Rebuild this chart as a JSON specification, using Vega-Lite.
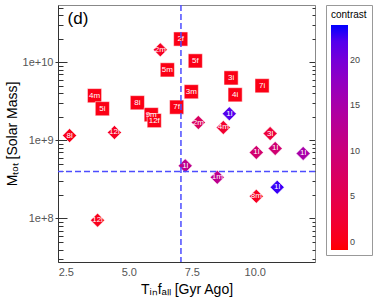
{
  "$schema": "https://vega.github.io/schema/vega-lite/v6.json",
  "width": 257,
  "height": 257,
  "autosize": {"type": "none"},
  "padding": {"left": 58, "top": 5, "right": 59, "bottom": 41},
  "config": {
    "font": "Liberation Sans",
    "view": {"stroke": "#888", "strokeWidth": 1},
    "axis": {"domainColor": "#333", "tickColor": "#333", "labelColor": "#555", "labelFontSize": 11, "titleFontSize": 14, "titleFontWeight": "normal", "titleColor": "#000", "grid": false},
    "legend": {"orient": "right", "offset": 10, "padding": 5, "strokeColor": "#999", "titleFontSize": 10, "titleFontWeight": "normal", "titleColor": "#000", "labelFontSize": 9, "labelColor": "#444", "gradientLength": 225, "gradientThickness": 17, "titlePadding": 5, "labelOffset": 6, "gradientStrokeWidth": 0}
  },
  "datasets": {
    "pts": [
      {"label": "2f", "t": 7.06, "m": 1.98e10, "contrast": 0, "kind": "sq"},
      {"label": "5m", "t": 6.53, "m": 7.98e9, "contrast": 0, "kind": "sq"},
      {"label": "5f", "t": 7.64, "m": 1.04e10, "contrast": 0, "kind": "sq"},
      {"label": "3i", "t": 9.06, "m": 6.3e9, "contrast": 0, "kind": "sq"},
      {"label": "7i", "t": 10.29, "m": 5.0e9, "contrast": 0, "kind": "sq"},
      {"label": "4i", "t": 9.22, "m": 3.83e9, "contrast": 0, "kind": "sq"},
      {"label": "3m", "t": 7.48, "m": 4.19e9, "contrast": 0, "kind": "sq"},
      {"label": "4m", "t": 3.64, "m": 3.73e9, "contrast": 0, "kind": "sq"},
      {"label": "5i", "t": 3.95, "m": 2.54e9, "contrast": 0, "kind": "sq"},
      {"label": "8i", "t": 5.34, "m": 3.03e9, "contrast": 0, "kind": "sq"},
      {"label": "7f", "t": 6.9, "m": 2.66e9, "contrast": 0, "kind": "sq"},
      {"label": "9m", "t": 5.89, "m": 2.13e9, "contrast": 0, "kind": "sq"},
      {"label": "12f", "t": 6.01, "m": 1.79e9, "contrast": 0, "kind": "sq"},
      {"label": "2m", "t": 6.25, "m": 1.44e10, "contrast": 1, "kind": "di"},
      {"label": "8l", "t": 2.65, "m": 1.15e9, "contrast": 0.5, "kind": "di"},
      {"label": "12l", "t": 4.43, "m": 1.26e9, "contrast": 1, "kind": "di"},
      {"label": "2m", "t": 7.76, "m": 1.69e9, "contrast": 7, "kind": "di"},
      {"label": "4m", "t": 8.75, "m": 1.46e9, "contrast": 2, "kind": "di"},
      {"label": "1l", "t": 8.99, "m": 2.19e9, "contrast": 22, "kind": "di"},
      {"label": "3l", "t": 10.61, "m": 1.22e9, "contrast": 3, "kind": "di"},
      {"label": "1l", "t": 10.06, "m": 7.0e8, "contrast": 8.5, "kind": "di"},
      {"label": "1l", "t": 10.81, "m": 7.87e8, "contrast": 9, "kind": "di"},
      {"label": "1l", "t": 11.92, "m": 6.8e8, "contrast": 15, "kind": "di"},
      {"label": "1l", "t": 7.24, "m": 4.71e8, "contrast": 12, "kind": "di"},
      {"label": "1m", "t": 8.51, "m": 3.36e8, "contrast": 12, "kind": "di"},
      {"label": "1l", "t": 10.89, "m": 2.51e8, "contrast": 23, "kind": "di"},
      {"label": "8m", "t": 10.06, "m": 1.92e8, "contrast": 1, "kind": "di"},
      {"label": "12l", "t": 3.76, "m": 9.5e7, "contrast": 0.5, "kind": "di"}
    ]
  },
  "layer": [
    {
      "data": {"name": "pts"},
      "mark": {"type": "point", "filled": true, "stroke": "white", "strokeWidth": 1, "strokeOpacity": 0.5},
      "encoding": {
        "x": {"field": "t", "type": "quantitative", "scale": {"domain": [2.19, 12.39], "nice": false, "zero": false},
              "axis": {"values": [2.5, 5, 7.5, 10], "format": ".1f", "ticks": false, "labelPadding": 4, "title": "Tᵢₙfₐₗₗ [Gyr Ago]", "titlePadding": 5}},
        "y": {"field": "m", "type": "quantitative", "scale": {"type": "log", "domain": [2.77e7, 5.4e10], "nice": false},
              "axis": {"orient": "left", "values": [1e8, 1e9, 1e10], "format": ".0e", "tickSize": 3, "labelPadding": 2, "title": "Mₜₒₜ [Solar Mass]", "titlePadding": 3}},
        "shape": {"field": "kind", "type": "nominal", "scale": {"domain": ["sq", "di"], "range": ["square", "diamond"]}, "legend": null},
        "size": {"field": "kind", "type": "nominal", "scale": {"domain": ["sq", "di"], "range": [200, 196]}, "legend": null},
        "color": {"field": "contrast", "type": "quantitative", "scale": {"domain": [-0.9, 23.8], "range": ["#FF0000", "#0000FF"], "interpolate": "lab", "nice": false, "zero": false},
                  "legend": {"title": "contrast", "values": [0, 5, 10, 15, 20]}},
        "opacity": {"value": 1}
      }
    },
    {
      "data": {"name": "pts"},
      "mark": {"type": "text", "color": "white", "fontSize": 8, "align": "center", "baseline": "middle"},
      "encoding": {
        "x": {"field": "t", "type": "quantitative", "axis": null},
        "y": {"field": "m", "type": "quantitative", "axis": {"orient": "left", "values": [1e8, 1e9, 1e10], "labels": false, "tickSize": -9, "domain": false, "title": null}},
        "text": {"field": "label"}
      }
    },
    {
      "data": {"values": [{}]},
      "mark": {"type": "text", "fontSize": 17, "align": "left", "baseline": "middle", "color": "#000"},
      "encoding": {
        "x": {"datum": 2.57, "type": "quantitative", "axis": null},
        "y": {"datum": 3.6e10, "type": "quantitative", "axis": {"orient": "left", "values": [3e7,4e7,5e7,6e7,7e7,8e7,9e7,2e8,3e8,4e8,5e8,6e8,7e8,8e8,9e8,2e9,3e9,4e9,5e9,6e9,7e9,8e9,9e9,2e10,3e10,4e10,5e10], "labels": false, "tickSize": -5, "domain": false, "title": null}},
        "text": {"value": "(d)"}
      }
    },
    {
      "data": {"values": [{}]},
      "mark": {"type": "rule", "color": "#4D4DFF", "strokeWidth": 1.5, "strokeDash": [6, 3]},
      "encoding": {
        "y": {"datum": 4e8, "type": "quantitative", "axis": {"orient": "right", "values": [1e8, 1e9, 1e10], "labels": false, "tickSize": -6, "domainColor": "#888", "title": null}}
      }
    },
    {
      "data": {"values": [{}]},
      "mark": {"type": "rule", "color": "#4D4DFF", "strokeWidth": 1.5, "strokeDash": [6, 3]},
      "encoding": {
        "x": {"datum": 7.07, "type": "quantitative", "axis": null}
      }
    },
    {
      "data": {"values": [{}]},
      "mark": {"type": "text", "text": ""},
      "encoding": {
        "y": {"datum": 1e9, "type": "quantitative", "axis": {"orient": "right", "values": [3e7,4e7,5e7,6e7,7e7,8e7,9e7,2e8,3e8,4e8,5e8,6e8,7e8,8e8,9e8,2e9,3e9,4e9,5e9,6e9,7e9,8e9,9e9,2e10,3e10,4e10,5e10], "labels": false, "tickSize": -3, "domain": false, "title": null}}
      }
    }
  ],
  "resolve": {"axis": {"x": "independent", "y": "independent"}}
}
